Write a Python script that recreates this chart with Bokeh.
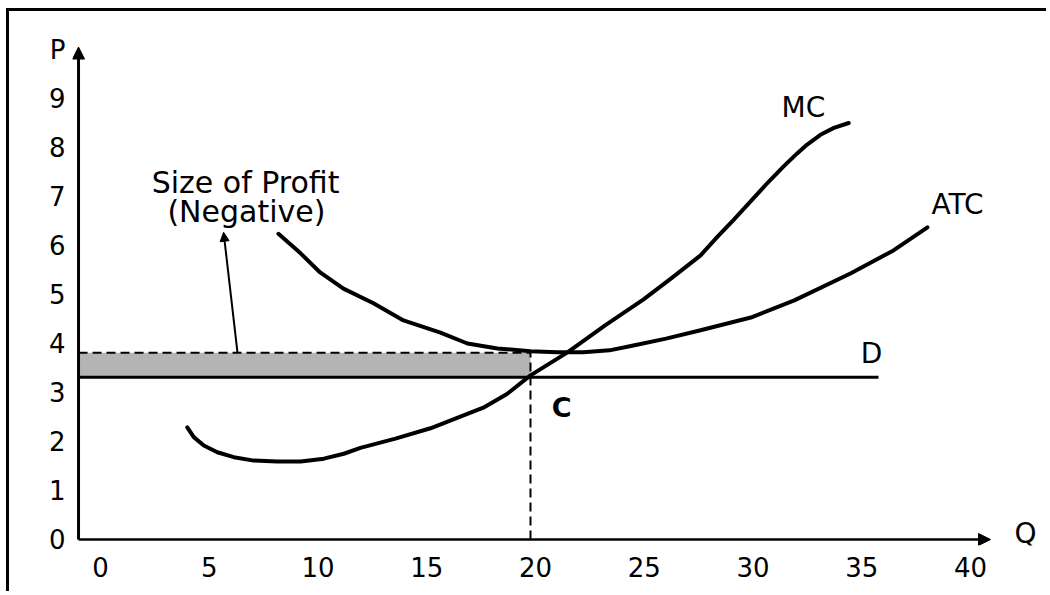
from bokeh.plotting import figure
from bokeh.models import Range1d, FixedTicker, Arrow, NormalHead, Label
from bokeh.embed import file_html
from bokeh.resources import INLINE

# ---------------- data ----------------
x_ticks = [0, 5, 10, 15, 20, 25, 30, 35, 40]
y_ticks = [0, 1, 2, 3, 4, 5, 6, 7, 8, 9]
y_axis_name_pos = 10          # the "P" axis name sits above the 9 tick
y_axis_name = "P"
x_axis_name = "Q"

mc_q = [3.99, 4.29, 4.75, 5.37, 6.13, 7.05, 8.12, 9.2, 10.27, 11.19, 11.95,
        13.56, 15.17, 16.4, 17.6, 18.69, 19.77, 21.47, 23.2, 24.97, 26.3, 27.59,
        28.35, 29.12, 29.89, 30.65, 31.42, 32.03, 32.49, 33.1, 33.72, 34.4]
mc_p = [2.29, 2.09, 1.92, 1.78, 1.68, 1.61, 1.59, 1.59, 1.65, 1.75, 1.87,
        2.06, 2.27, 2.48, 2.69, 2.97, 3.35, 3.82, 4.37, 4.9, 5.35, 5.8,
        6.17, 6.53, 6.9, 7.27, 7.62, 7.88, 8.06, 8.26, 8.4, 8.5]

atc_q = [8.18, 9.2, 10.1, 11.17, 12.55, 13.93, 15.63, 16.87, 18.25, 19.77, 21.0,
         22.2, 23.4, 24.5, 26.0, 27.59, 29.9, 31.9, 34.48, 36.46, 38.02]
atc_p = [6.24, 5.84, 5.45, 5.12, 4.82, 4.47, 4.22, 4.0, 3.9, 3.84, 3.82,
         3.82, 3.86, 3.96, 4.1, 4.27, 4.53, 4.88, 5.43, 5.9, 6.37]

demand_p = 3.31        # D (price) line
atc_star = 3.81        # ATC at chosen output
q_star = 19.77         # chosen output
d_end_q = 35.77        # end of D line
axis_q = -1.01         # position of the drawn P axis
q_axis_end = 40.92
p_axis_end = 10.05

labels = ["MC", "ATC", "D", x_axis_name]
label_q = [32.32, 39.4, 35.45, 42.53]
label_p = [8.82, 6.84, 3.80, 0.12]

# ---------------- figure ----------------
p = figure(width=1040, height=583, output_backend="svg", toolbar_location=None,
           x_range=Range1d(-1.287, 43.218), y_range=Range1d(-0.1224, 10.592),
           min_border_left=63, min_border_right=9, min_border_top=9,
           min_border_bottom=49)
p.styles = {"margin-left": "6px", "margin-top": "8px",
            "border-left": "3px solid black", "border-top": "3px solid black"}
p.background_fill_color = "white"
p.border_fill_color = "white"
p.outline_line_color = None
p.grid.visible = False

for ax in (p.xaxis[0], p.yaxis[0]):
    ax.axis_line_color = None
    ax.major_tick_line_color = None
    ax.minor_tick_line_color = None
    ax.major_tick_out = 0
    ax.major_tick_in = 0
    ax.major_label_text_font = "DejaVu Sans"
    ax.major_label_text_font_size = "26px"
    ax.major_label_text_color = "black"
p.xaxis[0].ticker = FixedTicker(ticks=x_ticks)
p.yaxis[0].ticker = FixedTicker(ticks=y_ticks + [y_axis_name_pos])
p.yaxis[0].major_label_overrides = {y_axis_name_pos: y_axis_name}
p.xaxis[0].major_label_standoff = 11
p.yaxis[0].major_label_standoff = 7

# shaded loss area
p.quad(left=[axis_q], right=[q_star], bottom=[demand_p], top=[atc_star],
       fill_color="#b4b4b4", line_color=None)

# D line
p.segment(x0=[axis_q], y0=[demand_p], x1=[d_end_q], y1=[demand_p],
          line_color="black", line_width=3)

# dashed guides
p.segment(x0=[axis_q], y0=[atc_star], x1=[q_star], y1=[atc_star],
          line_color="black", line_width=2, line_dash="9 5")
p.segment(x0=[q_star], y0=[0], x1=[q_star], y1=[atc_star],
          line_color="black", line_width=2, line_dash="9 5")

# curves
p.line(mc_q, mc_p, line_color="black", line_width=4, line_join="round", line_cap="round")
p.line(atc_q, atc_p, line_color="black", line_width=4, line_join="round", line_cap="round")

# axes with arrows
p.add_layout(Arrow(x_start=axis_q, y_start=0, x_end=q_axis_end, y_end=0,
                   line_width=2.5, line_color="black",
                   end=NormalHead(size=12, fill_color="black", line_color="black")))
p.add_layout(Arrow(x_start=axis_q, y_start=0, x_end=axis_q, y_end=p_axis_end,
                   line_width=3, line_color="black",
                   end=NormalHead(size=12, fill_color="black", line_color="black")))

# pointer arrow to shaded area label
p.add_layout(Arrow(x_start=6.3, y_start=atc_star, x_end=5.66, y_end=6.27,
                   line_width=2, line_color="black",
                   end=NormalHead(size=9, fill_color="black", line_color="black")))

# curve labels
p.text(x=label_q, y=label_p, text=labels, text_font_size="28px",
       text_font={"value": "DejaVu Sans"}, text_align="center",
       text_baseline="middle", text_color="black")

def lab(txt, x, y, size="26px", style="normal", font="DejaVu Sans"):
    p.add_layout(Label(x=x, y=y, text=txt, text_font=font, text_font_size=size,
                       text_font_style=style, text_align="center",
                       text_baseline="middle", text_color="black"))

lab("C", 21.2, 2.69, size="27px", style="bold")
lab("Size of Profit", 6.67, 7.29, size="30px")
lab("(Negative)", 6.71, 6.69, size="30px")

open("out.html", "w").write(file_html(p, INLINE))
